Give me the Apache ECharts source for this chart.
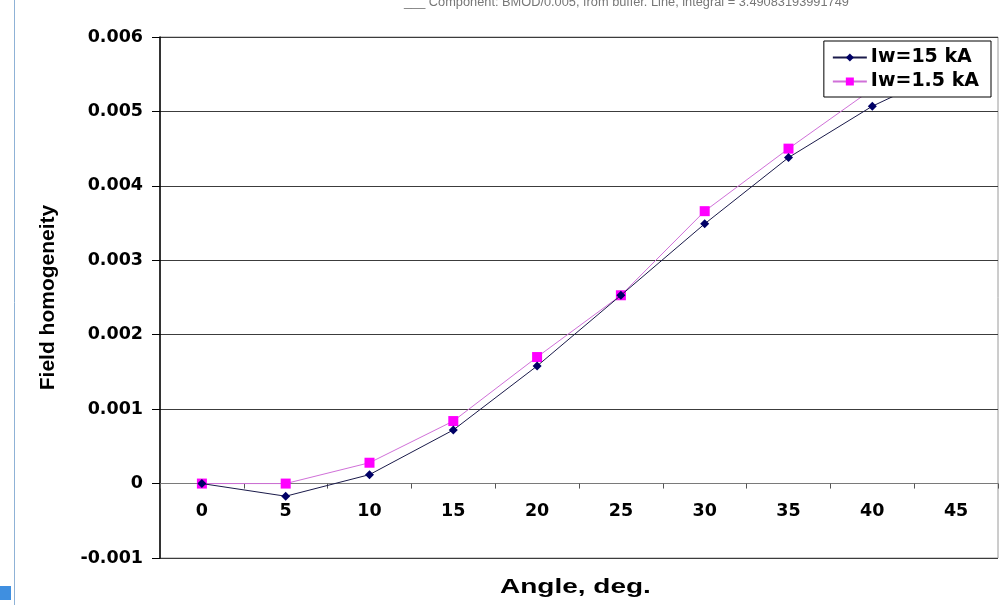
<!DOCTYPE html>
<html>
<head>
<meta charset="utf-8">
<title>Field homogeneity vs angle</title>
<script src="https://cdn.jsdelivr.net/npm/echarts@6/dist/echarts.min.js"></script>
<style>
  html, body { margin: 0; padding: 0; background: #ffffff; }
  #chart { width: 1000px; height: 605px; }
</style>
</head>
<body>
<div id="chart"></div>
<script>
// Rotation angle, degrees
const angles = ['0', '5', '10', '15', '20', '25', '30', '35', '40', '45'];
// Field homogeneity for the two winding currents
const iw15kA = [0, -0.00017, 0.00012, 0.00072, 0.00158, 0.00253, 0.00349, 0.00438, 0.00507, 0.0056];
const iw1p5kA = [0, 0, 0.00028, 0.00084, 0.0017, 0.00253, 0.00366, 0.0045, 0.0053, 0.0058];
// Value axis range and step
const yMin = -0.001, yMax = 0.006, yStep = 0.001;

const FONT = '"Liberation Sans", Arial, sans-serif';
const WIDE = '"DejaVu Sans", "Liberation Sans", sans-serif';
const GRID = { left: 160, right: 2, top: 37, bottom: 47 };
const plotHeight = 605 - GRID.top - GRID.bottom;
// the category axis sits on the zero line, above the bottom edge
const zeroOffset = -plotHeight * (0 - yMin) / (yMax - yMin);

const chart = echarts.init(document.getElementById('chart'), null, { renderer: 'canvas' });

chart.setOption({
  backgroundColor: '#ffffff',
  animation: false,
  textStyle: { fontFamily: FONT },
  grid: {
    left: GRID.left, right: GRID.right, top: GRID.top, bottom: GRID.bottom,
    containLabel: false, outerBoundsMode: 'none',
    show: true, borderColor: '#9a9a9a', borderWidth: 1, backgroundColor: 'transparent'
  },
  legend: {
    orient: 'vertical',
    right: 9, top: 41,
    backgroundColor: '#ffffff',
    borderColor: '#000000', borderWidth: 1,
    padding: [7, 12, 6, 8],
    itemGap: 5,
    itemWidth: 34, itemHeight: 10,
    textStyle: { fontFamily: WIDE, fontSize: 19, fontWeight: 'bold', color: '#000000', padding: [0, 0, 0, -1] },
    data: ['Iw=15 kA', 'Iw=1.5 kA']
  },
  xAxis: [
    {
      type: 'category',
      data: angles,
      boundaryGap: true,
      position: 'bottom',
      offset: zeroOffset,
      axisLine: { onZero: false, lineStyle: { color: '#7a7a7a', width: 1 } },
      axisTick: { show: true, inside: false, length: 5, lineStyle: { color: '#555555' } },
      axisLabel: { margin: 19, fontFamily: WIDE, fontSize: 17.5, fontWeight: 'bold', color: '#000000' },
      splitLine: { show: false }
    }
  ],
  yAxis: {
    type: 'value',
    min: yMin, max: yMax, interval: yStep,
    name: 'Field homogeneity',
    nameLocation: 'middle',
    nameGap: 101,
    nameRotate: 90,
    nameTextStyle: { fontFamily: FONT, fontSize: 21, fontWeight: 'bold', color: '#000000' },
    axisLine: { show: true, lineStyle: { color: '#000000', width: 1.5 } },
    axisTick: { show: true, length: 8, lineStyle: { color: '#000000' } },
    axisLabel: {
      margin: 17, fontFamily: WIDE, fontSize: 17.5, fontWeight: 'bold', color: '#000000',
      formatter: v => (Math.abs(v) < 1e-12 ? '0' : v.toFixed(3))
    },
    splitLine: { show: true, lineStyle: { color: '#3c3c3c', width: 1 } }
  },
  series: [
    {
      name: 'Iw=15 kA',
      type: 'line',
      data: iw15kA,
      symbol: 'diamond',
      symbolSize: [9, 9],
      lineStyle: { color: '#1a1a4a', width: 1 },
      itemStyle: { color: '#000066' },
      z: 3
    },
    {
      name: 'Iw=1.5 kA',
      type: 'line',
      data: iw1p5kA,
      symbol: 'rect',
      symbolSize: 10,
      lineStyle: { color: '#d070d8', width: 1 },
      itemStyle: { color: '#ff00ff' },
      z: 2
    }
  ],
  graphic: [
    {
      type: 'text', x: 404, y: -3, scaleX: 1.065,
      style: {
        text: '___ Component: BMOD/0.005, from buffer. Line, integral = 3.49083193991749',
        fontFamily: FONT, fontSize: 12, fill: '#777777'
      }
    },
    {
      type: 'text', x: 500, y: 577, scaleX: 1.4,
      style: {
        text: 'Angle, deg.',
        fontFamily: FONT, fontSize: 20, fontWeight: 'bold', fill: '#000000'
      }
    },
    {
      type: 'line', shape: { x1: 14.5, y1: 0, x2: 14.5, y2: 605 },
      style: { stroke: '#8fb2d6', lineWidth: 1 }
    },
    {
      type: 'rect', shape: { x: 0, y: 586, width: 11, height: 14 },
      style: { fill: '#3f8fe0' }
    }
  ]
});
</script>
</body>
</html>
